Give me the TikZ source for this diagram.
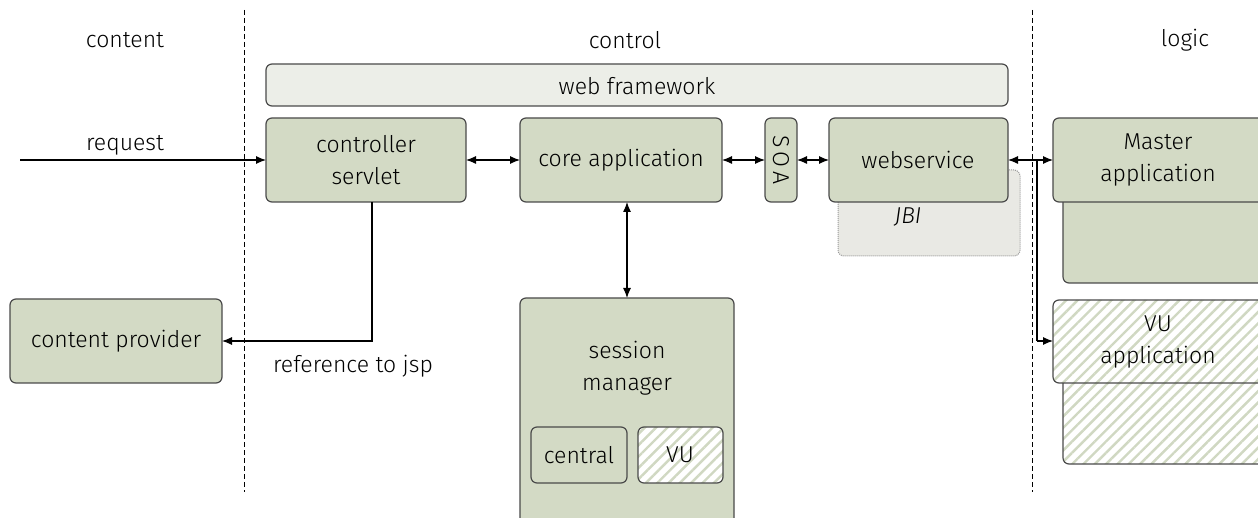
\documentclass[tikz,border=0pt]{standalone}
\usepackage{fontspec}
\setmainfont{Fira Sans Light}[BoldFont=Fira Sans]
\usetikzlibrary{arrows.meta,patterns.meta}
\definecolor{boxgreen}{HTML}{D3DAC5}
\definecolor{webfill}{HTML}{ECEEE8}
\definecolor{jbifill}{HTML}{E9E9E4}
\definecolor{hatch}{HTML}{D0D8C2}
\definecolor{edge}{HTML}{4A4A4A}
\tikzset{
  box/.style={draw=edge, line width=1.2pt, fill=boxgreen, rounded corners=6pt},
  hatched/.style={draw=edge, line width=1.2pt, rounded corners=6pt, preaction={fill=white},
     pattern={Lines[angle=45,distance=8pt,line width=2.4pt]}, pattern color=hatch},
  lbl/.style={font=\fontsize{23}{32}\selectfont, align=center, text=black},
  conn/.style={line width=1.1pt, {Latex[length=10pt,width=8pt]}-{Latex[length=10pt,width=8pt]}},
  conn1/.style={line width=1.1pt, -{Latex[length=10pt,width=8pt]}},
  sep/.style={line width=1pt, dash pattern=on 5pt off 3pt}
}
\begin{document}
\begin{tikzpicture}[x=1pt,y=-1pt]
\useasboundingbox (0,0) rectangle (1258,518);
\clip (0,0) rectangle (1258,518);
% separators
\draw[sep] (244,10) -- (244,492);
\draw[sep] (1032,10) -- (1032,492);
% headers
\node[lbl] (hcontent) at (125,40) {content};
\node[lbl] (hcontrol) at (625,40) {control};
\node[lbl] (hlogic) at (1185,40) {logic};
% web framework
\draw[box, fill=webfill] (266,64) rectangle (1008,106);
\node[lbl] (web) at (637,86) {web framework};
% JBI
\draw[draw=gray!80, densely dotted, line width=1pt, fill=jbifill, rounded corners=6pt] (838,170) rectangle (1020,256);
\node[lbl, font=\fontsize{23}{32}\selectfont\itshape] (jbi) at (908,217) {JBI};
% boxes
\draw[box] (266,118) rectangle (466,202);
\node[lbl] (ctrl) at (366,160) {controller\\servlet};
\coordinate (ctrlW) at (266,160);
\coordinate (ctrlE) at (466,160);
\coordinate (ctrlS) at (372,202);
\draw[box] (520,118) rectangle (722,202);
\node[lbl] (core) at (621,160) {core application};
\coordinate (coreW) at (520,160);
\coordinate (coreE) at (722,160);
\coordinate (coreS) at (627,202);
\draw[box] (765,118) rectangle (797,202);
\node[lbl, rotate=-90] (soa) at (781,160) {S\,O\,A};
\coordinate (soaW) at (765,160);
\coordinate (soaE) at (797,160);
\draw[box] (829,118) rectangle (1008,202);
\node[lbl] (ws) at (918,160) {webservice};
\coordinate (wsW) at (829,160);
\coordinate (wsE) at (1008,160);
% logic
\draw[box] (1063,190) rectangle (1275,283);
\draw[box] (1053,118) rectangle (1275,202);
\node[lbl] (master) at (1158,160) {Master\\application};
\coordinate (masterW) at (1053,160);
\draw[hatched] (1063,372) rectangle (1275,464);
\draw[hatched] (1053,300) rectangle (1275,383);
\node[lbl] (vu) at (1158,342) {VU\\application};
\coordinate (vuW) at (1053,341);
% content provider
\draw[box] (10,299) rectangle (222,383);
\node[lbl] (cp) at (116,341) {content provider};
\coordinate (cpE) at (222,341);
% session manager
\draw[box] (520,298) rectangle (734,535);
\node[lbl] (sm) at (627,368) {session\\manager};
\coordinate (smN) at (627,298);
\draw[box] (531,427) rectangle (627,483);
\node[lbl] (central) at (579,455) {central};
\draw[hatched] (638,427) rectangle (723,483);
\node[lbl] (vusm) at (680,455) {VU};
% connectors
\coordinate (reqstart) at (20,160);
\draw[conn1] (reqstart) -- (ctrlW);
\node[lbl] (req) at (125,145) {request};
\draw[conn1] (ctrlS) |- (cpE);
\node[lbl] (ref) at (353,366) {reference to jsp};
\draw[conn] (ctrlE) -- (coreW);
\draw[conn] (coreE) -- (soaW);
\draw[conn] (soaE) -- (wsW);
\draw[conn] (wsE) -- (masterW);
\coordinate (branch) at (1037,160);
\draw[line width=1.1pt] (branch) -- (1037,341);
\draw[conn1] (1037,341) -- (vuW);
\draw[conn] (coreS) -- (smN);
\end{tikzpicture}
\end{document}
